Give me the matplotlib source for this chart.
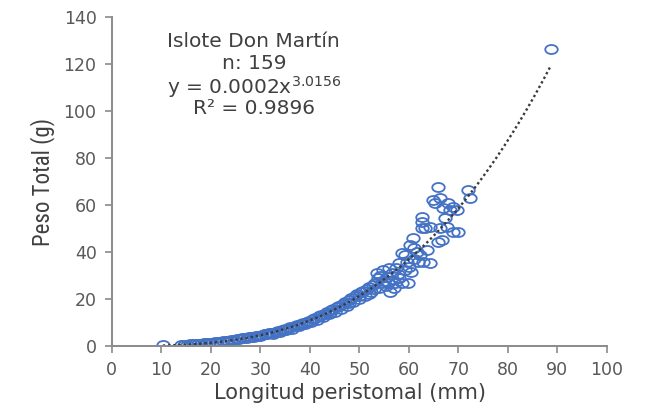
import numpy as np
import matplotlib
matplotlib.use("Agg")
import matplotlib.pyplot as plt
from matplotlib.path import Path
from matplotlib.transforms import Affine2D
from matplotlib import font_manager

# Longitud peristomal (mm) / Peso Total (g)
longitud = [
    10.3, 14.0, 14.6, 15.2, 15.8, 16.3, 16.9, 17.5, 18.0, 18.6, 19.1, 19.7, 20.2,
    20.8, 21.3, 21.9, 22.4, 23.0, 23.5, 24.1, 24.6, 25.2, 25.7, 26.3, 26.8, 27.3,
    27.8, 28.2, 28.7, 29.1, 29.6, 30.0, 30.4, 30.9, 31.3, 31.8, 32.2, 32.6, 33.1,
    33.5, 33.9, 34.4, 34.8, 35.2, 35.7, 36.1, 36.5, 37.0, 37.4, 37.8, 38.2, 38.6,
    39.1, 39.5, 39.9, 40.3,
    40.7, 41.1, 41.5, 41.9, 42.3, 42.7, 43.1, 43.5, 43.9, 44.3, 44.7, 45.1, 45.5,
    45.9, 46.3, 46.7, 47.1, 47.5, 47.9, 48.3, 48.7, 49.1, 49.5, 49.9, 50.3, 50.7,
    51.1, 51.5, 51.9, 52.3,
    52.7, 53.1, 53.5, 53.7, 54.0, 54.5, 54.7, 55.0, 55.4, 55.6, 55.8, 56.2, 56.6,
    56.9, 57.2, 57.5, 57.8, 58.1, 58.6, 58.6, 59.2, 59.2, 59.6, 59.8, 60.2, 60.5,
    60.8, 61.1, 61.6, 61.8, 62.2, 62.8,
    62.6, 62.6, 62.6, 63.2, 63.6, 64.2, 64.2, 64.8, 65.3, 65.9, 65.9, 66.3, 66.3,
    66.7, 66.9, 67.3, 67.7, 67.9, 68.3, 68.9, 68.9, 69.7, 69.9, 71.9, 72.3, 88.7,
    31.0, 35.0, 42.0, 44.0, 46.0, 48.0, 50.0, 52.0, 53.0, 54.2, 56.0, 57.0, 58.0,
    60.0, 61.0,
]
peso = [
    0.2, 0.5, 0.5, 0.6, 0.7, 0.7, 0.8, 0.9, 1.0, 1.1, 1.2, 1.3, 1.4,
    1.6, 1.7, 1.8, 2.0, 2.1, 2.3, 2.4, 2.6, 2.8, 3.0, 3.2, 3.4, 3.5,
    3.8, 3.6, 4.0, 4.2, 4.4, 4.3, 4.8, 5.0, 4.9, 5.4, 5.6, 5.3, 6.0,
    6.3, 5.9, 6.7, 7.0, 6.8, 7.5, 7.9, 7.4, 8.4, 8.8, 8.3, 9.4, 9.8,
    9.2, 10.3, 10.8, 10.2,
    11.4, 12.0, 11.1, 12.6, 13.2, 12.4, 13.8, 14.4, 13.5, 15.1, 15.8, 14.6, 16.4,
    17.2, 15.9, 18.0, 18.8, 17.1, 19.6, 20.4, 18.6, 21.2, 22.0, 19.8, 22.8, 23.6,
    21.4, 24.2, 25.0, 23.0,
    26.0, 26.8, 31.0, 28.9, 24.6, 26.8, 32.5, 27.8, 25.4, 29.4, 26.8, 23.0, 31.2,
    28.0, 26.8, 33.0, 30.8, 29.0, 26.8, 39.6, 32.4, 38.7, 35.7, 26.8, 43.0, 31.5,
    46.0, 37.0, 40.0, 35.7, 38.7, 35.7,
    54.9, 52.6, 50.2, 50.2, 40.9, 50.6, 35.3, 62.1, 60.9, 67.7, 44.3, 63.0, 50.2,
    45.1, 58.7, 54.5, 50.6, 60.9, 57.9, 59.1, 48.5, 57.9, 48.5, 66.4, 63.0, 126.4,
    5.3, 7.3, 12.9, 14.1, 16.8, 18.1, 21.1, 22.3, 24.2, 29.6, 33.1, 24.8, 35.2,
    33.6, 41.8,
]

x_ticks = list(range(0, 101, 10))
y_ticks = list(range(0, 141, 20))
info_lines = ["Islote Don Martín", "n: 159", "y = 0.0002x$^{3.0156}$", "R² = 0.9896"]

x = np.array(longitud)
y = np.array(peso)

# power trendline fitted in log space
b, log_a = np.polyfit(np.log(x), np.log(y), 1)
xf = np.linspace(x.min(), x.max(), 200)
yf = np.exp(log_a) * xf ** b

# narrow font for the y label if one is installed
installed = {f.name for f in font_manager.fontManager.ttflist}
narrow = [f for f in ["DejaVu Sans Condensed", "Liberation Sans Narrow",
                      "Roboto Condensed", "Open Sans Condensed"] if f in installed]
ylab_family = (narrow[:1] or []) + ["DejaVu Sans"]

fig = plt.figure(figsize=(6.58, 4.07), dpi=100)
ax = fig.add_axes([0.170, 0.150, 0.752, 0.808])

# slightly wide ellipse marker, like the stretched original
ell = Path.unit_circle().transformed(Affine2D().scale(1.0, 0.72))
ax.plot(x, y, linestyle="none", marker=ell, markersize=9,
        markerfacecolor="none", markeredgecolor="#4472C4", markeredgewidth=1.3)
ax.plot(xf, yf, linestyle=(0, (1, 1.2)), color="#3a3a3a", linewidth=1.7)

ax.set_xlim(0, 100)
ax.set_ylim(0, 140)
ax.set_xticks(x_ticks)
ax.set_yticks(y_ticks)

for s in ["top", "right"]:
    ax.spines[s].set_visible(False)
for s in ["left", "bottom"]:
    ax.spines[s].set_color("#8a8a8a")
    ax.spines[s].set_linewidth(1.4)
ax.tick_params(direction="out", length=5, width=1.2, color="#8a8a8a",
               labelcolor="#595959", labelsize=12.5, pad=6)

ax.set_xlabel("Longitud peristomal (mm)", fontsize=15, color="#404040")
ax.xaxis.set_label_coords(0.482, -0.112)
ax.set_ylabel("Peso Total (g)", fontsize=16.5, color="#404040", labelpad=6,
              family=ylab_family)

ys = [0.925, 0.860, 0.787, 0.722]
for line, yy in zip(info_lines, ys):
    ax.text(0.287, yy, line, transform=ax.transAxes, ha="center", va="center",
            fontsize=14.5, color="#404040")

fig.savefig("out.png", dpi=100)
